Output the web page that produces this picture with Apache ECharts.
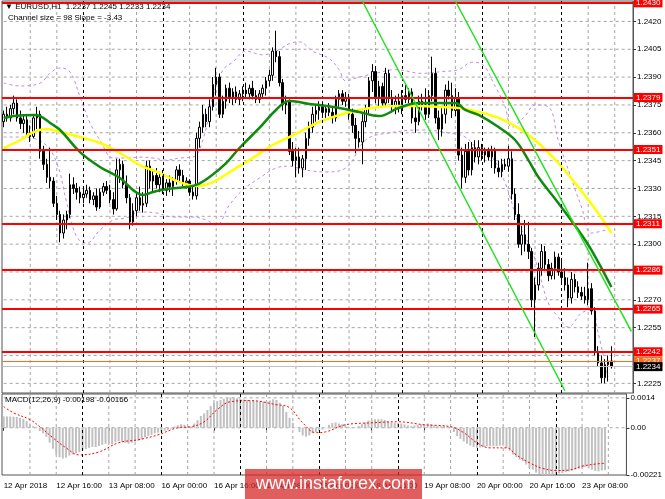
<!DOCTYPE html>
<html><head><meta charset="utf-8">
<script src="https://cdn.jsdelivr.net/npm/echarts@6/dist/echarts.min.js"></script>
<style>html,body{margin:0;padding:0;background:#fff}#c{width:665px;height:499px}</style>
</head><body><div id="c"></div>
<script>
const days = ['12 Apr','13 Apr','16 Apr','17 Apr','18 Apr','19 Apr','20 Apr','23 Apr'];
const firstLabel = '12 Apr 2018';
const opens = [1.2366,1.2370,1.2368,1.2373,1.2376,1.2368,1.2365,1.2367,1.2360,1.2358,1.2368,1.2370,1.2350,1.2343,1.2336,1.2334,1.2322,1.2316,1.2306,1.2313,1.2316,1.2332,1.2330,1.2328,
1.2325,1.2327,1.2329,1.2324,1.2326,1.2320,1.2328,1.2331,1.2329,1.2324,1.2319,1.2340,1.2343,1.2332,1.2325,1.2312,1.2318,1.2325,1.2321,1.2322,1.2342,1.2334,1.2337,1.2332,
1.2336,1.2329,1.2333,1.2331,1.2334,1.2340,1.2337,1.2333,1.2334,1.2328,1.2326,1.2357,1.2363,1.2370,1.2366,1.2374,1.2386,1.2390,1.2370,1.2377,1.2384,1.2379,1.2382,1.2378,
1.2381,1.2383,1.2381,1.2384,1.2380,1.2378,1.2381,1.2384,1.2388,1.2391,1.2404,1.2401,1.2387,1.2375,1.2377,1.2350,1.2345,1.2347,1.2341,1.2346,1.2357,1.2363,1.2370,1.2372,
1.2374,1.2371,1.2373,1.2371,1.2368,1.2378,1.2381,1.2377,1.2379,1.2370,1.2364,1.2357,1.2355,1.2366,1.2373,1.2388,1.2393,1.2379,1.2385,1.2376,1.2392,1.2379,1.2374,1.2377,
1.2373,1.2380,1.2378,1.2382,1.2368,1.2366,1.2377,1.2375,1.2370,1.2380,1.2392,1.2368,1.2362,1.2370,1.2383,1.2380,1.2372,1.2379,1.2348,1.2336,1.2350,1.2340,1.2352,1.2347,
1.2352,1.2348,1.2350,1.2347,1.2350,1.2341,1.2339,1.2343,1.2342,1.2346,1.2327,1.2316,1.2300,1.2305,1.2300,1.2296,1.2270,1.2278,1.2287,1.2296,1.2289,1.2283,1.2287,1.2293,
1.2285,1.2282,1.2278,1.2271,1.2281,1.2277,1.2274,1.2272,1.2270,1.2276,1.2264,1.2242,1.2236,1.2228,1.2235,1.2237];
const highs = [1.2372,1.2374,1.2375,1.2380,1.2378,1.2372,1.2370,1.2369,1.2364,1.2370,1.2374,1.2372,1.2353,1.2346,1.2352,1.2336,1.2326,1.2318,1.2316,1.2318,1.2338,1.2336,1.2333,1.2331,
1.2330,1.2332,1.2331,1.2328,1.2330,1.2330,1.2333,1.2334,1.2332,1.2328,1.2346,1.2346,1.2345,1.2337,1.2327,1.2322,1.2328,1.2331,1.2328,1.2345,1.2345,1.2340,1.2341,1.2339,
1.2340,1.2335,1.2337,1.2336,1.2342,1.2343,1.2340,1.2336,1.2335,1.2331,1.2360,1.2366,1.2375,1.2373,1.2378,1.2390,1.2395,1.2392,1.2380,1.2386,1.2387,1.2384,1.2385,1.2383,
1.2385,1.2387,1.2386,1.2388,1.2383,1.2383,1.2386,1.2390,1.2394,1.2406,1.2415,1.2404,1.2389,1.2380,1.2378,1.2355,1.2352,1.2352,1.2348,1.2360,1.2366,1.2374,1.2375,1.2377,
1.2377,1.2375,1.2376,1.2374,1.2380,1.2383,1.2383,1.2382,1.2381,1.2373,1.2368,1.2361,1.2370,1.2375,1.2390,1.2397,1.2396,1.2388,1.2387,1.2395,1.2394,1.2383,1.2380,1.2381,
1.2383,1.2386,1.2384,1.2384,1.2374,1.2380,1.2381,1.2384,1.2383,1.2401,1.2395,1.2372,1.2374,1.2386,1.2388,1.2387,1.2384,1.2382,1.2352,1.2354,1.2355,1.2355,1.2356,1.2356,
1.2354,1.2352,1.2352,1.2353,1.2352,1.2345,1.2346,1.2346,1.2353,1.2350,1.2330,1.2322,1.2310,1.2313,1.2312,1.2298,1.2282,1.2290,1.2300,1.2299,1.2292,1.2290,1.2296,1.2295,
1.2291,1.2287,1.2282,1.2285,1.2284,1.2280,1.2277,1.2277,1.2290,1.2279,1.2266,1.2245,1.2240,1.2238,1.2240,1.2245];
const lows = [1.2363,1.2366,1.2366,1.2370,1.2366,1.2362,1.2360,1.2358,1.2355,1.2357,1.2362,1.2346,1.2340,1.2333,1.2330,1.2320,1.2313,1.2301,1.2303,1.2308,1.2314,1.2327,1.2324,1.2322,
1.2322,1.2325,1.2322,1.2321,1.2318,1.2319,1.2326,1.2327,1.2322,1.2316,1.2318,1.2333,1.2330,1.2322,1.2308,1.2310,1.2315,1.2318,1.2317,1.2320,1.2330,1.2328,1.2330,1.2328,
1.2327,1.2326,1.2328,1.2326,1.2332,1.2334,1.2331,1.2330,1.2326,1.2324,1.2324,1.2352,1.2360,1.2363,1.2363,1.2372,1.2380,1.2368,1.2368,1.2373,1.2376,1.2375,1.2376,1.2375,
1.2377,1.2379,1.2378,1.2378,1.2376,1.2376,1.2379,1.2380,1.2385,1.2388,1.2398,1.2385,1.2372,1.2370,1.2348,1.2342,1.2336,1.2338,1.2336,1.2340,1.2353,1.2360,1.2366,1.2367,
1.2368,1.2368,1.2369,1.2365,1.2366,1.2374,1.2375,1.2374,1.2367,1.2360,1.2349,1.2352,1.2343,1.2363,1.2370,1.2382,1.2376,1.2374,1.2374,1.2374,1.2376,1.2371,1.2370,1.2371,
1.2370,1.2376,1.2376,1.2365,1.2360,1.2364,1.2372,1.2367,1.2368,1.2377,1.2365,1.2356,1.2358,1.2365,1.2378,1.2368,1.2369,1.2345,1.2330,1.2333,1.2337,1.2337,1.2344,1.2343,
1.2345,1.2344,1.2345,1.2341,1.2338,1.2336,1.2336,1.2340,1.2339,1.2324,1.2313,1.2298,1.2294,1.2296,1.2292,1.2266,1.2250,1.2275,1.2283,1.2286,1.2280,1.2281,1.2281,1.2283,
1.2279,1.2275,1.2266,1.2268,1.2274,1.2271,1.2270,1.2268,1.2267,1.2262,1.2240,1.2234,1.2225,1.2225,1.2226,1.2233];
const closes = [1.2370,1.2368,1.2373,1.2376,1.2368,1.2365,1.2367,1.2360,1.2358,1.2368,1.2370,1.2350,1.2343,1.2336,1.2334,1.2322,1.2316,1.2306,1.2313,1.2316,1.2332,1.2330,1.2328,1.2325,
1.2327,1.2329,1.2324,1.2326,1.2320,1.2328,1.2331,1.2329,1.2324,1.2319,1.2340,1.2343,1.2332,1.2325,1.2312,1.2318,1.2325,1.2321,1.2322,1.2342,1.2334,1.2337,1.2332,1.2336,
1.2329,1.2333,1.2331,1.2334,1.2340,1.2337,1.2333,1.2334,1.2328,1.2326,1.2357,1.2363,1.2370,1.2366,1.2374,1.2386,1.2390,1.2370,1.2377,1.2384,1.2379,1.2382,1.2378,1.2381,
1.2383,1.2381,1.2384,1.2380,1.2378,1.2381,1.2384,1.2388,1.2391,1.2404,1.2401,1.2387,1.2375,1.2377,1.2350,1.2345,1.2347,1.2341,1.2346,1.2357,1.2363,1.2370,1.2372,1.2374,
1.2371,1.2373,1.2371,1.2368,1.2378,1.2381,1.2377,1.2379,1.2370,1.2364,1.2357,1.2355,1.2366,1.2373,1.2388,1.2393,1.2379,1.2385,1.2376,1.2392,1.2379,1.2374,1.2377,1.2373,
1.2380,1.2378,1.2382,1.2368,1.2366,1.2377,1.2375,1.2370,1.2380,1.2392,1.2368,1.2362,1.2370,1.2383,1.2380,1.2372,1.2379,1.2348,1.2336,1.2350,1.2340,1.2352,1.2347,1.2352,
1.2348,1.2350,1.2347,1.2350,1.2341,1.2339,1.2343,1.2342,1.2346,1.2327,1.2316,1.2300,1.2305,1.2300,1.2296,1.2270,1.2278,1.2287,1.2296,1.2289,1.2283,1.2287,1.2293,1.2285,
1.2282,1.2278,1.2271,1.2281,1.2277,1.2274,1.2272,1.2270,1.2276,1.2264,1.2242,1.2236,1.2228,1.2235,1.2237,1.2234];
const macdHist = [0.00053,0.00053,0.00053,0.00052,0.0005,0.00046,0.00042,0.00031,0.0002,0.00008,
0.00001,-0.00015,-0.00026,-0.00042,-0.0007,-0.00098,-0.00125,-0.00138,-0.00144,-0.0014,
-0.0013,-0.00125,-0.0012,-0.00114,-0.00106,-0.001,-0.00094,-0.0009,-0.0009,-0.00086,
-0.0008,-0.00075,-0.00074,-0.00077,-0.00067,-0.00063,-0.00066,-0.0007,-0.00075,-0.0007,
-0.00064,-0.0006,-0.00055,-0.00045,-0.00039,-0.00033,-0.00026,-0.00023,-0.00018,-0.00014,
-0.0001,-0.00004,0.00006,0.00012,0.00017,0.00014,0.00008,0.00006,0.0002,0.00036,
0.00055,0.00067,0.00083,0.00102,0.00117,0.00125,0.0013,0.00136,0.0014,0.00141,
0.0014,0.00138,0.00136,0.00133,0.00131,0.00128,0.00127,0.00125,0.00123,0.00123,
0.00125,0.00128,0.00133,0.0013,0.00117,0.00102,0.00074,0.00047,0.00023,0.00001,
-0.0002,-0.00036,-0.00042,-0.00036,-0.00026,-0.0002,-0.00014,-0.00008,-0.00002,0.00014,
0.00022,0.00025,0.0002,0.00016,0.00011,0.00005,0.00001,0.00001,0.00008,0.00017,
0.00025,0.00034,0.00036,0.0004,0.0004,0.0004,0.00036,0.0003,0.00025,0.00022,
0.00022,0.0002,0.00016,0.00011,0.00008,0.00011,0.00014,0.00016,0.00017,0.0002,
0.00017,0.00011,0.00008,0.00008,0.00008,0.00005,0.00005,-0.0002,-0.00039,-0.00052,
-0.00064,-0.00075,-0.00083,-0.0009,-0.00094,-0.00092,-0.0009,-0.00086,-0.00086,-0.00086,
-0.00086,-0.00083,-0.00083,-0.00094,-0.00106,-0.00125,-0.00138,-0.00149,-0.00156,-0.00172,
-0.00188,-0.00196,-0.0021,-0.00216,-0.0022,-0.00221,-0.0022,-0.00218,-0.00216,-0.00214,
-0.00212,-0.00208,-0.00204,-0.002,-0.00196,-0.00192,-0.00186,-0.00184,-0.0019,-0.00196,
-0.00202,-0.00204,-0.002,-0.00198];
const macdSignal = [[0,0.00099],[3,0.0007],[8,0.00038],[11,0.00005],[15,-0.00047],[19,-0.00094],[23,-0.00127],[29,-0.00113],[35,-0.0007],[41,-0.00056],[47,-0.00033],[53,0],[57,0.00005],[61,0.00028],[65,0.00085],[69,0.00122],[75,0.00127],[83,0.00108],[87,0.00094],[91,0.00023],[95,-0.00023],[98,-0.00019],[104,0.00014],[112,0.00023],[120,0.00028],[128,0.00014],[136,0.00005],[140,-0.00023],[144,-0.0007],[148,-0.00094],[153,-0.00094],[156,-0.00127],[160,-0.00164],[164,-0.0019],[168,-0.002],[172,-0.00198],[176,-0.0018],[180,-0.0017],[183,-0.00166]];
const greenMA = [[0,1.2368],[3,1.2369],[9,1.23696],[11,1.2369],[14,1.23653],[17,1.23615],[23,1.23496],[29,1.23416],[35,1.23356],[39,1.23291],[42,1.23265],[45,1.23281],[49,1.23297],[55,1.23308],[58,1.23319],[62,1.23362],[67,1.23437],[71,1.23518],[77,1.23626],[82,1.23723],[86,1.23771],[89,1.23766],[92,1.23755],[95,1.2375],[101,1.23734],[107,1.23712],[113,1.2369],[119,1.23734],[125,1.2376],[131,1.2376],[136,1.2376],[139,1.23723],[143,1.23696],[149,1.23631],[154,1.23561],[158,1.23453],[161,1.23362],[167,1.23222],[173,1.23076],[177,1.22968],[183,1.22769]];
const yellowMA = [[0,1.23518],[5,1.23561],[9,1.23604],[13,1.2362],[17,1.23604],[23,1.23577],[29,1.23545],[35,1.23491],[41,1.23426],[47,1.23383],[53,1.23334],[58,1.23313],[63,1.23334],[69,1.23399],[75,1.23464],[81,1.23534],[86,1.23577],[89,1.23604],[95,1.23658],[101,1.23696],[107,1.23723],[113,1.23739],[119,1.23744],[125,1.23744],[131,1.23739],[137,1.23734],[143,1.23712],[149,1.2368],[155,1.23626],[161,1.23545],[167,1.23437],[173,1.23308],[179,1.23168],[183,1.2306]];
const bandUpper = [[0,1.23868],[5,1.23852],[11,1.23868],[14,1.23922],[17,1.23949],[20,1.23927],[23,1.23793],[26,1.23653],[29,1.23561],[33,1.23464],[37,1.23464],[41,1.23469],[45,1.23464],[49,1.23453],[53,1.23464],[57,1.23469],[60,1.23561],[63,1.23793],[66,1.23938],[69,1.23981],[73,1.2404],[78,1.2402],[82,1.2404],[86,1.2408],[89,1.2409],[93,1.2404],[98,1.2400],[101,1.2394],[103,1.2388],[107,1.2390],[112,1.2392],[118,1.2394],[126,1.2392],[132,1.2393],[137,1.2394],[141,1.2398],[144,1.2397],[148,1.2385],[151,1.2374],[153,1.2363],[157,1.2369],[160,1.2375],[164,1.2374],[167,1.2356],[171,1.2335],[174,1.2320],[177,1.2306],[182,1.2308]];
const bandLower = [[0,1.23577],[5,1.23577],[12,1.23545],[16,1.23437],[19,1.23222],[22,1.23039],[25,1.23006],[29,1.23076],[33,1.2313],[37,1.23141],[41,1.23173],[46,1.23168],[51,1.23146],[57,1.23146],[61,1.2313],[64,1.23103],[68,1.23211],[72,1.23292],[77,1.23356],[82,1.2341],[86,1.2342],[91,1.23399],[97,1.23389],[103,1.2341],[109,1.23561],[116,1.23599],[126,1.23615],[134,1.23599],[139,1.23577],[143,1.23507],[147,1.23469],[151,1.2333],[155,1.23114],[159,1.22968],[161,1.22861],[164,1.22683],[167,1.22607],[170,1.22553],[174,1.22629],[177,1.22645],[179,1.22521],[182,1.22284]];
const channelLower = [[108,1.2431],[169,1.2221]];
const channelUpper = [[136,1.2431],[189,1.2253]];
const redLevels = [1.2430,1.2379,1.2351,1.2311,1.2286,1.2265,1.2242];
const orangeLevel = 1.2237;
const bidLevel = 1.2234;
const priceGrid = [1.2225,1.2240,1.2255,1.2270,1.2285,1.2300,1.2315,1.2330,1.2345,1.2360,1.2375,1.2390,1.2405,1.2420];
const priceLabels = [1.2225,1.2255,1.2270,1.2300,1.2315,1.2330,1.2345,1.2360,1.2375,1.2390,1.2405,1.2420];
const macdGrid = [0.0014,0];
const macdTicks = [0.0014,0,-0.00221];
const macdTickText = ['0.0014','0.00','-0.00221'];
const headerText = '\u25BC EURUSD,H1  1.2237 1.2245 1.2233 1.2234';
const channelText = 'Channel size = 98 Slope = -3.43';
const macdText = 'MACD(12,26,9) -0.00198 -0.00166';
const watermark = 'www.instaforex.com';

const NCAT = 190;
const categories = [];
for (const d of days) for (let h = 0; h < 24; h++) if (categories.length < NCAT) categories.push(d + ' ' + String(h).padStart(2,'0') + ':00');
const candles = opens.map((o,i)=>[o, closes[i], lows[i], highs[i]]);

const FONT = 'Liberation Sans';
const PMIN = 1.22198, PMAX = 1.24310, MMIN = -0.00221, MMAX = 0.00158;
// gray grid lines as broken line paths (vertical every 8 bars, horizontal at tick values)
const gridPath = (lo, hi, hVals) => {
  const pts = [];
  for (let i = 8; i < NCAT; i += 8) {
    if (i % 24 === 0) continue;
    pts.push([i, lo], [i, hi], [i, null]);
  }
  hVals.forEach(v => pts.push([0, v], [NCAT - 1, v], [NCAT - 1, null]));
  return pts;
};
const dayV = [];
for (let i = 24; i < NCAT; i += 24) dayV.push({xAxis: categories[i]});
const lvlLabel = (bg) => ({show:true, position:'end', distance:1, formatter:(p)=>Number(p.value).toFixed(4),
  backgroundColor:bg, color:'#fff', fontSize:8, fontFamily:FONT, padding:[1,2,0,2]});

const option = {
  animation:false,
  backgroundColor:'#fff',
  grid:[
    {left:2, top:1, width:631, height:392, show:true, borderColor:'#555', borderWidth:1},
    {left:2, top:394, width:631, height:81, show:true, borderColor:'#555', borderWidth:1}
  ],
  xAxis:[
    {type:'category', gridIndex:0, data:categories, boundaryGap:true, show:false},
    {type:'category', gridIndex:1, data:categories, boundaryGap:true,
     axisLine:{show:false},
     axisTick:{show:true, alignWithLabel:true, length:3, interval:(i)=>i%16===0, lineStyle:{color:'#333'}},
     axisLabel:{show:true, interval:(i)=>i%16===0, align:'left', margin:7, fontSize:8, fontFamily:FONT, color:'#000',
       formatter:(v,i)=> i===0 ? firstLabel : v},
     splitLine:{show:false}}
  ],
  yAxis:[
    {type:'value', gridIndex:0, position:'right', min:PMIN, max:PMAX, scale:true,
     axisLine:{show:true, lineStyle:{color:'#555'}},
     axisTick:{show:true, length:3, customValues:priceLabels, lineStyle:{color:'#333'}},
     axisLabel:{show:true, customValues:priceLabels, margin:4, fontSize:8, fontFamily:FONT, color:'#000', formatter:(v)=>v.toFixed(4)},
     splitLine:{show:false}},
    {type:'value', gridIndex:1, position:'right', min:MMIN, max:MMAX,
     axisLine:{show:true, lineStyle:{color:'#555'}},
     axisTick:{show:true, length:3, customValues:macdTicks, lineStyle:{color:'#333'}},
     axisLabel:{show:true, customValues:macdTicks, margin:4, fontSize:8, fontFamily:FONT, color:'#000',
       formatter:(v)=>{const k = macdTicks.findIndex(t=>Math.abs(t-v)<1e-9); return k>=0 ? macdTickText[k] : '';}},
     splitLine:{show:false}}
  ],
  series:[
    {type:'line', xAxisIndex:0, yAxisIndex:0, data:gridPath(PMIN, PMAX, priceGrid), connectNulls:false, showSymbol:false, silent:true, z:1,
     lineStyle:{color:'#a4a4a4', width:1, type:[3,3]}},
    {type:'line', xAxisIndex:1, yAxisIndex:1, data:gridPath(MMIN, MMAX, macdGrid), connectNulls:false, showSymbol:false, silent:true, z:1,
     lineStyle:{color:'#a4a4a4', width:1, type:[3,3]}},
    {type:'line', xAxisIndex:0, yAxisIndex:0, data:[], z:1, silent:true,
     markLine:{silent:true, symbol:['none','none'], label:{show:false}, lineStyle:{color:'#000', type:[3,3], width:1}, data:dayV}},
    {type:'line', xAxisIndex:1, yAxisIndex:1, data:[], z:1, silent:true,
     markLine:{silent:true, symbol:['none','none'], label:{show:false}, lineStyle:{color:'#000', type:[3,3], width:1}, data:dayV.map(d=>({xAxis:d.xAxis}))}},
    {type:'line', xAxisIndex:0, yAxisIndex:0, data:bandUpper, smooth:0.4, showSymbol:false, z:2,
     lineStyle:{color:'#c08ae6', width:1, type:[3,3]}},
    {type:'line', xAxisIndex:0, yAxisIndex:0, data:bandLower, smooth:0.4, showSymbol:false, z:2,
     lineStyle:{color:'#c08ae6', width:1, type:[3,3]}},
    {type:'candlestick', xAxisIndex:0, yAxisIndex:0, data:candles, barWidth:2, z:3,
     itemStyle:{color:'#ffffff', color0:'#000000', borderColor:'#000000', borderColor0:'#000000', borderWidth:1}},
    {type:'line', xAxisIndex:0, yAxisIndex:0, data:yellowMA, smooth:0.4, showSymbol:false, z:4,
     lineStyle:{color:'#ffff00', width:2.5}},
    {type:'line', xAxisIndex:0, yAxisIndex:0, data:greenMA, smooth:0.4, showSymbol:false, z:4,
     lineStyle:{color:'#0f8a0f', width:2.5}},
    {type:'line', xAxisIndex:0, yAxisIndex:0, data:channelLower, showSymbol:false, z:5,
     lineStyle:{color:'#22e022', width:1.5}},
    {type:'line', xAxisIndex:0, yAxisIndex:0, data:channelUpper, showSymbol:false, z:5,
     lineStyle:{color:'#22e022', width:1.5}},
    {type:'line', xAxisIndex:0, yAxisIndex:0, data:[], z:6, silent:true,
     markLine:{silent:true, precision:6, symbol:['none','none'],
       data:[
         {yAxis:orangeLevel, lineStyle:{color:'#ff6a1a', width:1, type:'solid'}, label:lvlLabel('#ff6a1a')},
         ...redLevels.map(v=>({yAxis:v, lineStyle:{color:'#ff0000', width:2, type:'solid'}, label:lvlLabel('#ff0000')}))
       ]}},
    {type:'line', xAxisIndex:0, yAxisIndex:0, data:[], z:7, silent:true,
     markLine:{silent:true, precision:6, symbol:['none','none'],
       data:[
         {yAxis:bidLevel, lineStyle:{color:'#c0c0c0', width:1, type:'solid'}, label:lvlLabel('#000000')}
       ]}},
    {type:'bar', xAxisIndex:1, yAxisIndex:1, data:macdHist, barWidth:2, z:3,
     itemStyle:{color:'#c0c0c0'}},
    {type:'line', xAxisIndex:1, yAxisIndex:1, data:macdSignal, smooth:0.4, showSymbol:false, z:4,
     lineStyle:{color:'#ff0000', width:1, type:[2,2]}}
  ],
  graphic:[
    {type:'text', left:5, top:3, z:50, style:{text:headerText, fontSize:8, fontFamily:FONT+', DejaVu Sans', fill:'#000'}},
    {type:'text', left:8, top:14, z:50, style:{text:channelText, fontSize:8, fontFamily:FONT, fill:'#000'}},
    {type:'text', left:5, top:396, z:50, style:{text:macdText, fontSize:8, fontFamily:FONT, fill:'#000'}},
    {type:'rect', left:245, top:469, z:100, shape:{width:177, height:30}, style:{fill:'rgba(214,40,40,0.75)'}},
    {type:'text', left:256, top:475, z:101, style:{text:watermark, fontSize:18, fontFamily:FONT, fill:'#fff'}}
  ]
};
const chart = echarts.init(document.getElementById('c'), null, {renderer:'canvas'});
chart.setOption(option);
</script></body></html>
